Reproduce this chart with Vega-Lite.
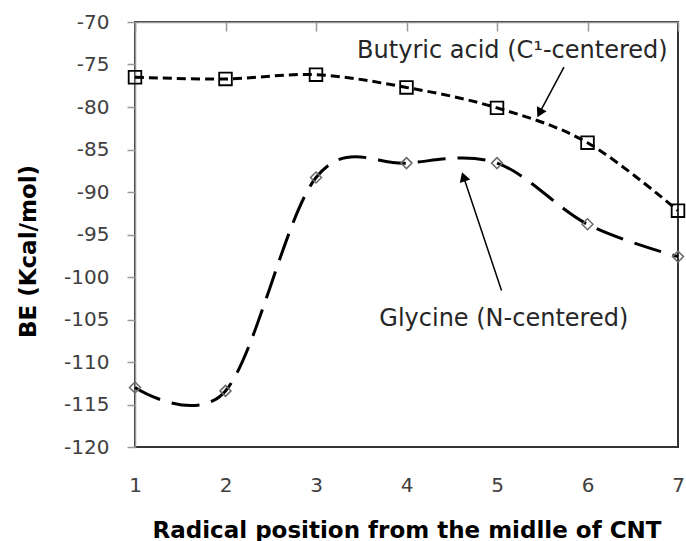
{
  "$schema": "https://vega.github.io/schema/vega-lite/v6.json",
  "width": 543,
  "height": 425,
  "autosize": "none",
  "padding": {"left": 135, "top": 22, "right": 8, "bottom": 94},
  "background": "white",
  "config": {
    "font": "DejaVu Sans",
    "view": {"stroke": "#333333", "strokeWidth": 2}
  },
  "datasets": {
    "series": [
      {"series": "Butyric acid", "x": 1, "be": -76.5},
      {"series": "Butyric acid", "x": 2, "be": -76.7},
      {"series": "Butyric acid", "x": 3, "be": -76.2},
      {"series": "Butyric acid", "x": 4, "be": -77.7},
      {"series": "Butyric acid", "x": 5, "be": -80.1},
      {"series": "Butyric acid", "x": 6, "be": -84.2},
      {"series": "Butyric acid", "x": 7, "be": -92.2},
      {"series": "Glycine", "x": 1, "be": -113.0},
      {"series": "Glycine", "x": 2, "be": -113.4},
      {"series": "Glycine", "x": 3, "be": -88.3},
      {"series": "Glycine", "x": 4, "be": -86.6},
      {"series": "Glycine", "x": 5, "be": -86.6},
      {"series": "Glycine", "x": 6, "be": -93.8},
      {"series": "Glycine", "x": 7, "be": -97.6}
    ],
    "arrows": [
      {"series": "Butyric acid", "x": 5.74, "y": -75.3, "x2": 5.47, "y2": -80.7},
      {"series": "Glycine", "x": 5.05, "y": -101.6, "x2": 4.63, "y2": -88.2}
    ],
    "labels": [
      {"label": "Butyric acid (C¹-centered)", "x": 5.17, "y": -73.4},
      {"label": "Glycine (N-centered)", "x": 5.075, "y": -104.9}
    ]
  },
  "layer": [
    {
      "data": {"name": "series"},
      "transform": [{"filter": "datum.series === 'Glycine'"}],
      "mark": {"type": "line", "interpolate": "cardinal", "color": "black", "strokeWidth": 3, "strokeDash": [28, 12]},
      "encoding": {
        "x": {
          "field": "x", "type": "quantitative",
          "scale": {"domain": [1, 7], "nice": false, "zero": false},
          "axis": {
            "orient": "bottom", "values": [1, 2, 3, 4, 5, 6, 7], "domain": false, "ticks": false, "tickSize": 0,
            "grid": false, "labelFontSize": 20, "labelColor": "#404040", "labelPadding": 28,
            "labelFont": "DejaVu Sans", "labelFlush": false,
            "title": "Radical position from the midlle of CNT", "titleFontSize": 23, "titleFontWeight": "bold",
            "titleColor": "black", "titleBaseline": "alphabetic", "titleY": 90
          }
        },
        "y": {
          "field": "be", "type": "quantitative",
          "scale": {"domain": [-120, -70], "nice": false, "zero": false},
          "axis": {
            "orient": "left",
            "values": [-70, -75, -80, -85, -90, -95, -100, -105, -110, -115, -120],
            "labelExpr": "replace(datum.label, '−', '-')",
            "grid": false, "domain": true, "domainColor": "#999999", "domainWidth": 1.5, "ticks": true, "tickColor": "#999999", "tickWidth": 1.5,
            "tickSize": 8, "labelPadding": 18, "labelFontSize": 20, "labelColor": "#404040",
            "title": "BE (Kcal/mol)", "titleFontSize": 23, "titleFontWeight": "bold", "titleColor": "black",
            "titleBaseline": "middle", "titleX": -107, "titleY": 229
          }
        }
      }
    },
    {
      "data": {"name": "series"},
      "transform": [{"filter": "datum.series === 'Butyric acid'"}],
      "mark": {"type": "line", "interpolate": "cardinal", "color": "black", "strokeWidth": 3, "strokeDash": [9, 5]},
      "encoding": {
        "x": {
          "field": "x", "type": "quantitative",
          "scale": {"domain": [1, 7], "nice": false, "zero": false},
          "axis": {
            "orient": "top", "values": [1, 2, 3, 4, 5, 6, 7], "domain": true, "domainColor": "#999999", "domainWidth": 1.5,
            "ticks": true, "tickSize": -9, "tickColor": "#999999", "tickWidth": 1.5, "labels": false, "grid": false, "title": null
          }
        },
        "y": {"field": "be", "type": "quantitative", "scale": {"domain": [-120, -70], "nice": false, "zero": false}, "axis": null}
      }
    },
    {
      "data": {"name": "series"},
      "transform": [{"filter": "datum.series === 'Glycine'"}],
      "mark": {"type": "point", "shape": "diamond", "filled": false, "stroke": "#6a6a6a", "strokeWidth": 1.5, "size": 120, "opacity": 1},
      "encoding": {
        "x": {"field": "x", "type": "quantitative", "scale": {"domain": [1, 7], "nice": false, "zero": false}, "axis": null},
        "y": {"field": "be", "type": "quantitative", "scale": {"domain": [-120, -70], "nice": false, "zero": false}, "axis": null}
      }
    },
    {
      "data": {"name": "series"},
      "transform": [{"filter": "datum.series === 'Butyric acid'"}],
      "mark": {"type": "point", "shape": "square", "filled": false, "stroke": "black", "strokeWidth": 1.8, "size": 160, "opacity": 1},
      "encoding": {
        "x": {"field": "x", "type": "quantitative", "scale": {"domain": [1, 7], "nice": false, "zero": false}, "axis": null},
        "y": {"field": "be", "type": "quantitative", "scale": {"domain": [-120, -70], "nice": false, "zero": false}, "axis": null}
      }
    },
    {
      "data": {"name": "arrows"},
      "mark": {"type": "rule", "color": "black", "strokeWidth": 1.5},
      "encoding": {
        "x": {"field": "x", "type": "quantitative", "scale": {"domain": [1, 7], "nice": false, "zero": false}, "axis": null},
        "y": {"field": "y", "type": "quantitative", "scale": {"domain": [-120, -70], "nice": false, "zero": false}, "axis": null},
        "x2": {"field": "x2"},
        "y2": {"field": "y2"}
      }
    },
    {
      "data": {"name": "arrows"},
      "transform": [{"filter": "datum.series === 'Butyric acid'"}],
      "mark": {"type": "point", "shape": "triangle-up", "filled": true, "color": "black", "size": 120, "angle": 208, "opacity": 1},
      "encoding": {
        "x": {"field": "x2", "type": "quantitative", "scale": {"domain": [1, 7], "nice": false, "zero": false}, "axis": null},
        "y": {"field": "y2", "type": "quantitative", "scale": {"domain": [-120, -70], "nice": false, "zero": false}, "axis": null}
      }
    },
    {
      "data": {"name": "arrows"},
      "transform": [{"filter": "datum.series === 'Glycine'"}],
      "mark": {"type": "point", "shape": "triangle-up", "filled": true, "color": "black", "size": 120, "angle": 341.6, "opacity": 1},
      "encoding": {
        "x": {"field": "x2", "type": "quantitative", "scale": {"domain": [1, 7], "nice": false, "zero": false}, "axis": null},
        "y": {"field": "y2", "type": "quantitative", "scale": {"domain": [-120, -70], "nice": false, "zero": false}, "axis": null}
      }
    },
    {
      "data": {"name": "labels"},
      "mark": {"type": "text", "fontSize": 24, "color": "#262626", "align": "center", "baseline": "middle", "font": "DejaVu Sans"},
      "encoding": {
        "x": {"field": "x", "type": "quantitative", "scale": {"domain": [1, 7], "nice": false, "zero": false}, "axis": null},
        "y": {"field": "y", "type": "quantitative", "scale": {"domain": [-120, -70], "nice": false, "zero": false}, "axis": null},
        "text": {"field": "label"}
      }
    }
  ],
  "resolve": {"axis": {"x": "independent", "y": "independent"}}
}
